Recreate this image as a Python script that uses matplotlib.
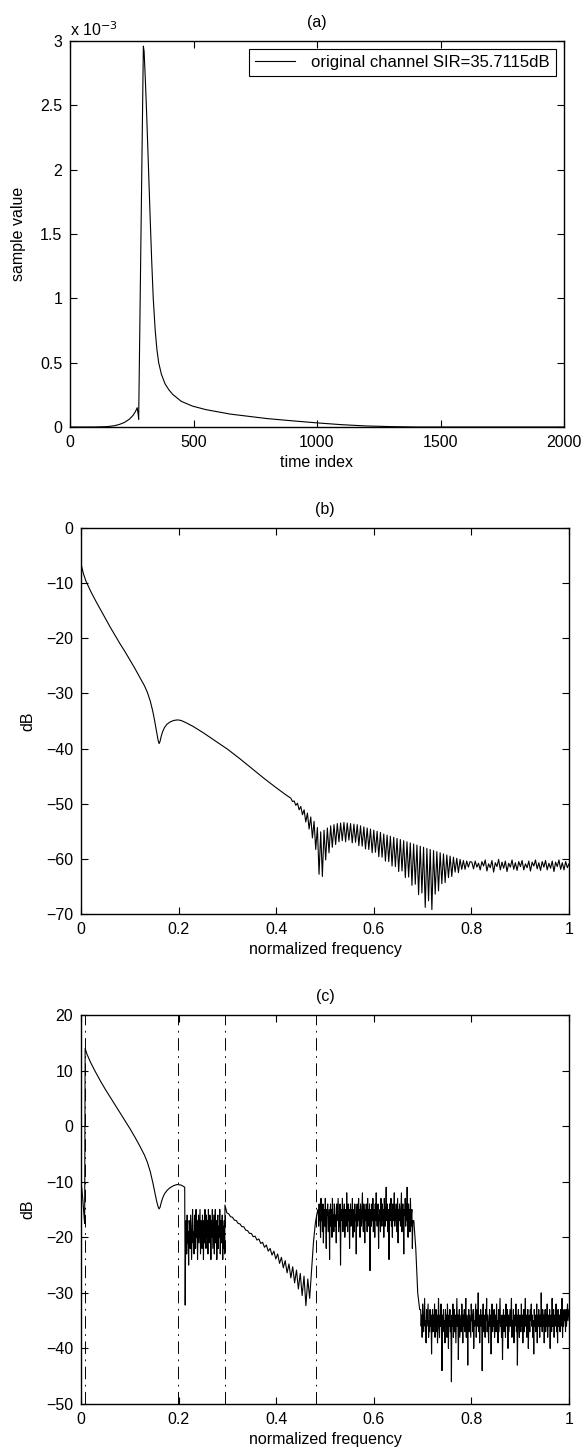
import numpy as np
import matplotlib
matplotlib.use("Agg")
import matplotlib.pyplot as plt
from matplotlib.ticker import FuncFormatter, MultipleLocator

plt.rcParams['font.family'] = ['Liberation Sans', 'DejaVu Sans']
plt.rcParams['font.size'] = 11.5
plt.rcParams['lines.scale_dashes'] = False

# ---------------- (a) impulse response ----------------
a_t = [0, 100, 150, 180, 200, 220, 240, 255, 265, 272, 276, 278,
       297, 300, 305, 310, 318, 325, 331, 337, 345, 352, 359, 370,
       385, 400, 415, 450, 495, 550, 650, 800, 900, 1000, 1100, 1200,
       1300, 1400, 2000]
a_val = [0, 0, 0.003, 0.01, 0.02, 0.035, 0.06, 0.09, 0.12, 0.15, 0.10, 0.06,
         2.96, 2.92, 2.70, 2.45, 2.00, 1.60, 1.28, 1.00, 0.75, 0.60, 0.50, 0.41,
         0.335, 0.29, 0.255, 0.20, 0.163, 0.135, 0.10, 0.065, 0.048, 0.032, 0.018, 0.008,
         0.003, 0.0, 0.0]  # x 1e-3
a_legend = 'original channel SIR=35.7115dB'

# ---------------- (b) spectrum of channel ----------------
b_f_smooth = [0.000, 0.005, 0.010, 0.020, 0.030, 0.040, 0.050, 0.060, 0.070,
              0.080, 0.090, 0.100, 0.110, 0.120, 0.130, 0.136, 0.142, 0.147,
              0.151, 0.155, 0.158, 0.160, 0.162, 0.164, 0.167, 0.171, 0.176,
              0.182, 0.190, 0.198, 0.205, 0.215, 0.230, 0.250, 0.275, 0.300,
              0.325, 0.350, 0.375, 0.400, 0.420]
b_db_smooth = [-6.5, -8.3, -9.6, -11.5, -13.2, -14.8, -16.4, -18.0, -19.5,
               -21.0, -22.4, -23.9, -25.4, -27.0, -28.6, -29.8, -31.4, -33.2,
               -35.0, -37.0, -38.5, -39.1, -38.7, -37.9, -37.0, -36.2, -35.6,
               -35.2, -34.9, -34.8, -34.9, -35.3, -36.0, -37.1, -38.6, -40.1,
               -41.8, -43.6, -45.4, -47.1, -48.4]
b_ripple_range = (0.43, 0.7972)
b_ripple = [-49.0, -49.6, -49.5, -50.3, -49.9, -51.1, -50.5, -52.0, -51.1, -53.3,
            -51.7, -54.6, -52.4, -56.2, -53.2, -58.3, -54.3, -62.8, -55.1, -63.2,
            -54.8, -60.2, -54.4, -58.9, -54.0, -57.9, -53.8, -57.4, -53.6, -56.9,
            -53.5, -56.7, -53.4, -56.9, -53.5, -56.6, -53.6, -57.1, -53.7, -57.0,
            -53.8, -57.6, -54.0, -57.7, -54.2, -58.2, -54.4, -58.3, -54.6, -58.9,
            -54.8, -58.8, -55.0, -59.6, -55.2, -59.7, -55.5, -60.4, -55.7, -60.5,
            -55.9, -61.3, -56.1, -61.4, -56.3, -62.3, -56.5, -62.2, -56.7, -63.4,
            -56.9, -63.3, -57.1, -64.8, -57.3, -64.6, -57.5, -66.5, -57.7, -66.2,
            -57.9, -68.8, -58.1, -67.6, -58.3, -69.2, -58.5, -66.4, -58.7, -65.8,
            -58.9, -64.5, -59.1, -64.3, -59.3, -63.4, -59.5, -63.2, -59.7, -62.4,
            -59.9, -62.5, -60.1, -61.9, -60.3, -61.9, -60.4, -61.5, -60.5]
b_tail_range = (0.8009, 1.0)
b_tail = [-60.6, -61.8, -60.4, -61.5, -60.8, -62.0, -60.5, -61.3, -60.2, -62.2,
          -60.9, -61.6, -60.3, -62.4, -60.7, -61.4, -60.1, -62.0, -60.6, -61.7,
          -60.4, -62.3, -60.8, -61.5, -60.2, -61.9, -60.7, -62.1, -60.5, -61.4,
          -60.3, -62.0, -60.9, -61.6, -60.4, -62.2, -60.6, -61.3, -60.2, -61.8,
          -60.7, -62.1, -60.5, -61.5, -60.3, -62.0, -60.8, -61.7, -60.4, -62.3,
          -60.6, -61.4, -60.2, -61.9, -60.7, -62.0, -60.5, -61.6, -60.9]

# ---------------- (c) shortened channel spectrum ----------------
c_f_smooth = [0.000, 0.002, 0.004, 0.006, 0.0075, 0.0085, 0.012, 0.020, 0.030,
              0.040, 0.050, 0.060, 0.070, 0.080, 0.090, 0.100, 0.110, 0.120,
              0.130, 0.136, 0.142, 0.147, 0.151, 0.155, 0.158, 0.160, 0.162,
              0.164, 0.167, 0.171, 0.176, 0.182, 0.190, 0.197, 0.205, 0.211,
              0.2125, 0.2135]
c_db_smooth = [-10.0, -11.5, -13.5, -16.0, -17.5, 14.0, 13.0, 11.4, 9.7,
               8.1, 6.6, 5.2, 3.8, 2.4, 1.0, -0.4, -1.9, -3.5,
               -5.2, -6.5, -8.2, -10.1, -11.8, -13.5, -14.5, -14.9, -14.6,
               -13.9, -13.0, -12.2, -11.6, -11.1, -10.7, -10.5, -10.6, -10.9,
               -11.0, -32.2]
c_noise1_range = (0.2145, 0.2945)
c_noise1 = [-20, -17, -23, -16, -21, -19, -25, -17, -18, -22,
            -16, -20, -24, -18, -15, -21, -19, -23, -16, -18,
            -22, -15, -20, -17, -24, -19, -16, -21, -18, -15,
            -23, -17, -20, -22, -16, -19, -24, -17, -21, -15,
            -18, -22, -16, -20, -17, -23, -15, -19, -21, -16,
            -18, -24, -17, -20, -15, -22, -19, -16, -23, -18,
            -15, -21, -17, -24, -19, -16, -22, -18, -20, -15,
            -23, -17, -21, -19, -16, -24, -18, -22, -17, -23]
c_slope_range = (0.2950, 0.4840)
c_slope = [-14.2, -15.6, -15.8, -16.3, -16.4, -16.9, -17.0, -17.5, -17.6, -18.1,
           -18.1, -18.7, -18.8, -19.3, -19.3, -19.9, -19.8, -20.5, -20.3, -21.1,
           -20.9, -21.8, -21.4, -22.5, -22.0, -23.2, -22.5, -23.9, -23.0, -24.7,
           -23.6, -25.5, -24.2, -26.4, -24.8, -27.3, -25.3, -28.2, -25.9, -29.3,
           -26.5, -30.5, -27.0, -32.3, -27.5, -31.0, -26.0, -21.0, -17.5, -15.5]
c_noise2_range = (0.4860, 0.6800)
c_noise2 = [-15, -18, -14, -17, -16, -20, -13, -17, -15, -19,
            -14, -21, -16, -15, -18, -13, -17, -22, -15, -16,
            -14, -19, -17, -15, -24, -16, -14, -18, -15, -20,
            -13, -17, -16, -19, -14, -15, -18, -16, -21, -14,
            -17, -15, -13, -19, -16, -18, -14, -25, -16, -15,
            -17, -13, -19, -15, -16, -14, -20, -17, -15, -18,
            -12, -16, -19, -14, -17, -15, -22, -16, -14, -18,
            -15, -17, -13, -20, -16, -15, -19, -14, -17, -16,
            -23, -15, -14, -18, -16, -13, -17, -15, -20, -14,
            -16, -18, -15, -12, -17, -19, -14, -16, -21, -15,
            -17, -14, -16, -19, -13, -18, -15, -17, -14, -26,
            -16, -15, -18, -14, -17, -13, -19, -16, -15, -20,
            -14, -17, -12, -16, -18, -15, -14, -22, -16, -17,
            -15, -19, -13, -16, -18, -14, -17, -15, -20, -13,
            -16, -18, -15, -11, -17, -14, -19, -16, -15, -24,
            -14, -17, -16, -13, -18, -15, -20, -14, -17, -16,
            -12, -18, -15, -17, -14, -19, -16, -13, -21, -15,
            -17, -14, -16, -18, -15, -12, -19, -16, -14, -17,
            -23, -15, -16, -13, -18, -14, -17, -11, -16, -20,
            -14, -17, -15, -19, -13, -18, -16, -15, -22, -17]
c_drop_f = [0.682, 0.686, 0.690, 0.694]
c_drop_db = [-17, -22, -30, -33]
c_noise3_range = (0.6960, 1.0)
c_noise3 = [-33, -36, -34, -38, -32, -35, -37, -34, -31, -36,
            -35, -39, -33, -36, -34, -32, -38, -35, -37, -33,
            -36, -34, -41, -35, -33, -37, -34, -36, -32, -38,
            -35, -33, -37, -34, -39, -36, -31, -35, -38, -34,
            -36, -32, -35, -44, -34, -37, -33, -36, -35, -39,
            -33, -36, -34, -38, -32, -35, -40, -34, -36, -33,
            -37, -35, -46, -34, -36, -32, -38, -35, -33, -37,
            -34, -39, -35, -31, -36, -34, -42, -35, -33, -38,
            -36, -34, -37, -32, -35, -39, -34, -36, -33, -37,
            -35, -31, -38, -34, -36, -43, -35, -33, -37, -34,
            -36, -38, -32, -35, -34, -37, -33, -40, -35, -36,
            -34, -32, -38, -35, -33, -36, -30, -37, -34, -39,
            -35, -33, -36, -34, -44, -35, -32, -37, -36, -34,
            -38, -33, -35, -31, -37, -34, -36, -39, -35, -33,
            -36, -34, -41, -35, -32, -37, -34, -36, -33, -38,
            -35, -34, -37, -32, -36, -35, -39, -33, -37, -34,
            -31, -36, -35, -38, -34, -42, -35, -33, -37, -36,
            -34, -38, -32, -35, -36, -33, -40, -34, -37, -35,
            -33, -36, -34, -31, -38, -35, -36, -33, -39, -34,
            -36, -35, -32, -37, -34, -43, -35, -33, -36, -38,
            -34, -35, -37, -32, -36, -34, -39, -35, -33, -37,
            -35, -31, -36, -34, -38, -35, -33, -40, -36, -34,
            -37, -33, -35, -32, -36, -34, -38, -35, -41, -33,
            -36, -34, -37, -35, -32, -39, -34, -36, -33, -35,
            -38, -34, -36, -30, -35, -37, -33, -36, -34, -39,
            -35, -33, -37, -34, -36, -32, -38, -35, -34, -36,
            -33, -40, -35, -34, -37, -31, -36, -35, -33, -38,
            -34, -36, -35, -32, -37, -34, -39, -33, -36, -35,
            -34, -37, -33, -36, -35, -31, -38, -34, -36, -33,
            -35, -34, -37, -33, -36, -34, -32, -35, -34, -33]
c_vlines = [0.009, 0.199, 0.295, 0.482]


def seg(rng, vals):
    return np.linspace(rng[0], rng[1], len(vals)), np.asarray(vals, float)


W, H = 582, 1454
fig = plt.figure(figsize=(W / 100, H / 100), dpi=100)


def ax_at(l, t, r, b):
    return fig.add_axes([l / W, 1 - b / H, (r - l) / W, (b - t) / H])


def style(ax):
    ax.tick_params(direction='in', top=True, right=True, length=5, width=0.8,
                   labelsize=11.5, pad=5.5)
    for s in ax.spines.values():
        s.set_linewidth(1.0)


lw = 0.8

# (a)
ax1 = ax_at(70, 41, 564, 427)
ax1.plot(a_t, np.asarray(a_val) * 1e-3, color='black', lw=lw, label=a_legend)
ax1.set_xlim(0, 2000)
ax1.set_ylim(0, 3e-3)
ax1.xaxis.set_major_locator(MultipleLocator(500))
ax1.yaxis.set_major_locator(MultipleLocator(0.5e-3))
ax1.yaxis.set_major_formatter(FuncFormatter(lambda v, p: '%g' % round(v * 1e3, 6)))
ax1.set_xlabel('time index', labelpad=4)
ax1.set_ylabel('sample value', labelpad=10)
ax1.set_title('(a)', fontsize=11.5, pad=10)
ax1.text(0.0, 1.006, r'x 10$^{-3}$', transform=ax1.transAxes, ha='left', va='bottom',
         fontsize=11.5)
leg = ax1.legend(loc='upper right', fancybox=False, framealpha=1, edgecolor='black',
                 fontsize=12, handlelength=2.4, handletextpad=1.0,
                 borderaxespad=0.5, borderpad=0.35)
leg.get_frame().set_linewidth(0.8)
style(ax1)

# (b)
ax2 = ax_at(81, 528, 569, 914)
fr, vr = seg(b_ripple_range, b_ripple)
ft, vt = seg(b_tail_range, b_tail)
fb = np.concatenate([b_f_smooth, fr, ft])
vb = np.concatenate([b_db_smooth, vr, vt])
ax2.plot(fb, vb, color='black', lw=lw)
ax2.set_xlim(0, 1)
ax2.set_ylim(-70, 0)
ax2.xaxis.set_major_locator(MultipleLocator(0.2))
ax2.yaxis.set_major_locator(MultipleLocator(10))
ax2.xaxis.set_major_formatter(FuncFormatter(lambda v, p: '%g' % round(v, 6)))
ax2.set_xlabel('normalized frequency', labelpad=4)
ax2.set_ylabel('dB', labelpad=8)
ax2.set_title('(b)', fontsize=11.5, pad=10)
style(ax2)

# (c)
ax3 = ax_at(81, 1015, 569, 1404)
parts_f = [np.asarray(c_f_smooth)]
parts_v = [np.asarray(c_db_smooth, float)]
for rng, vals in [(c_noise1_range, c_noise1), (c_slope_range, c_slope),
                  (c_noise2_range, c_noise2)]:
    f_, v_ = seg(rng, vals)
    parts_f.append(f_)
    parts_v.append(v_)
parts_f.append(np.asarray(c_drop_f))
parts_v.append(np.asarray(c_drop_db, float))
f_, v_ = seg(c_noise3_range, c_noise3)
parts_f.append(f_)
parts_v.append(v_)
ax3.plot(np.concatenate(parts_f), np.concatenate(parts_v), color='black', lw=lw)
for xv in c_vlines:
    ax3.axvline(xv, color='black', lw=0.7, linestyle=(0, (9, 4, 1.2, 4)))
ax3.set_xlim(0, 1)
ax3.set_ylim(-50, 20)
ax3.xaxis.set_major_locator(MultipleLocator(0.2))
ax3.yaxis.set_major_locator(MultipleLocator(10))
ax3.xaxis.set_major_formatter(FuncFormatter(lambda v, p: '%g' % round(v, 6)))
ax3.set_xlabel('normalized frequency', labelpad=4)
ax3.set_ylabel('dB', labelpad=8)
ax3.set_title('(c)', fontsize=11.5, pad=10)
style(ax3)

fig.savefig('out.png', dpi=100)
